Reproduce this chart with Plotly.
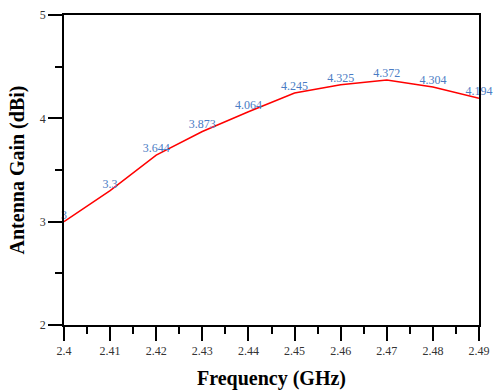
import plotly.graph_objects as go

freq = [2.40, 2.41, 2.42, 2.43, 2.44, 2.45, 2.46, 2.47, 2.48, 2.49]
gain = [3.0, 3.3, 3.644, 3.873, 4.064, 4.245, 4.325, 4.372, 4.304, 4.194]
gain_labels = ["3", "3.3", "3.644", "3.873", "4.064", "4.245", "4.325", "4.372", "4.304", "4.194"]
x_ticks = [2.40, 2.41, 2.42, 2.43, 2.44, 2.45, 2.46, 2.47, 2.48, 2.49]
x_ticktext = ["2.4", "2.41", "2.42", "2.43", "2.44", "2.45", "2.46", "2.47", "2.48", "2.49"]
y_ticks = [2, 3, 4, 5]

fig = go.Figure()
fig.add_trace(go.Scatter(
    x=freq, y=gain, mode="lines+text",
    text=gain_labels, textposition="top center",
    textfont=dict(family="Liberation Serif", size=12, color="#4a7cc4"),
    line=dict(color="#ff0000", width=1.5),
    cliponaxis=False, showlegend=False,
))

fig.update_layout(
    width=493, height=390,
    margin=dict(l=64, r=14, t=15, b=65, autoexpand=False),
    paper_bgcolor="white", plot_bgcolor="white",
    font=dict(family="Liberation Serif", color="#222"),
    xaxis=dict(
        range=[2.40, 2.49], tickvals=x_ticks, ticktext=x_ticktext,
        ticks="outside", ticklen=14, tickwidth=1.5, tickcolor="black",
        minor=dict(dtick=0.005, ticks="outside", ticklen=7, tickwidth=1.5, tickcolor="black", showgrid=False),
        showline=True, linecolor="black", linewidth=1.8, mirror=True,
        showgrid=False, zeroline=False, automargin=False,
        tickfont=dict(family="Liberation Serif", size=12, color="#333"),
        title=dict(text="<b>Frequency (GHz)</b>", font=dict(family="Liberation Serif", size=20, color="black"), standoff=14),
    ),
    yaxis=dict(
        range=[2, 5], tickvals=y_ticks,
        ticks="outside", ticklen=14, tickwidth=1.5, tickcolor="black",
        minor=dict(dtick=0.5, ticks="outside", ticklen=7, tickwidth=1.5, tickcolor="black", showgrid=False),
        showline=True, linecolor="black", linewidth=1.8, mirror=True,
        showgrid=False, zeroline=False, automargin=False,
        tickfont=dict(family="Liberation Serif", size=12, color="#333"),
        title=dict(text="<b>Antenna Gain (dBi)</b>", font=dict(family="Liberation Serif", size=20, color="black"), standoff=10),
    ),
)

fig.write_html("out.html", config={"displayModeBar": False},
               post_script="document.body.style.margin='0';document.body.style.overflow='hidden';")
